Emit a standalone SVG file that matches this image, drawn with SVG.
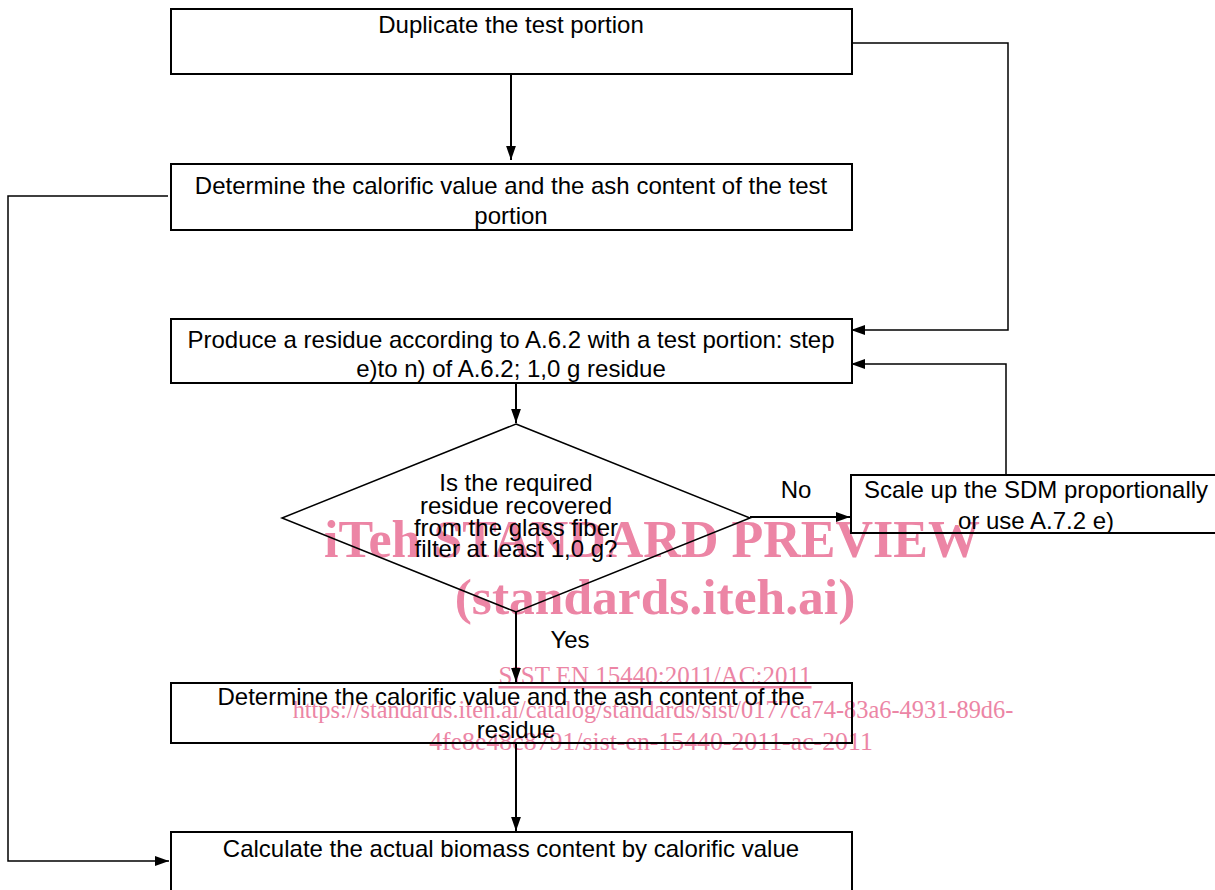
<svg xmlns="http://www.w3.org/2000/svg" width="1215" height="890" viewBox="0 0 1215 890">
<defs>
<marker id="ahb" viewBox="0 0 10 10" refX="10" refY="5" markerWidth="14" markerHeight="14" markerUnits="userSpaceOnUse" orient="auto">
<path d="M0,1.5 L10,5 L0,8.5 z" fill="#000"/>
</marker>
</defs>
<style>
.box{fill:none;stroke:#000;stroke-width:2}
.t{font-family:"Liberation Sans",Arial,sans-serif;font-size:24px;fill:#000;text-anchor:middle}
.c{fill:none;stroke:#000;stroke-width:2;marker-end:url(#ahb)}
.c2{fill:none;stroke:#000;stroke-width:1.5;marker-end:url(#ahb)}
.wm{font-family:"Liberation Serif","Times New Roman",serif;fill:#ec85a5;text-anchor:middle}
</style>
<rect width="1215" height="890" fill="#fff"/>
<g id="watermark">
<text class="wm" x="652" y="557" font-size="52" font-weight="bold">iTeh STANDARD PREVIEW</text>
<text class="wm" x="655" y="614" font-size="51.5" font-weight="bold">(standards.iteh.ai)</text>
<text class="wm" x="655" y="684" font-size="25" text-decoration="underline">SIST EN 15440:2011/AC:2011</text>
<text class="wm" x="653" y="718" font-size="24.4">https://standards.iteh.ai/catalog/standards/sist/0177ca74-83a6-4931-89d6-</text>
<text class="wm" x="651" y="750" font-size="25.8">4fe8e48c8791/sist-en-15440-2011-ac-2011</text>
</g>
<g id="connectors">
<path class="c" d="M511,74 V160"/>
<path class="c2" d="M852,43 H1008 V330 H851"/>
<path class="c2" d="M1006,475 V364 H851"/>
<path class="c" d="M516,383 V423"/>
<path class="c" d="M750,517 H850"/>
<path class="c" d="M516,612 V682"/>
<path class="c" d="M516,743 V831"/>
<path class="c2" d="M168,196 H8 V861 H169"/>
</g>
<g id="n1">
<rect class="box" x="171" y="9" width="681" height="65"/>
<text class="t" x="511" y="33">Duplicate the test portion</text>
</g>
<g id="n2">
<rect class="box" x="171" y="164" width="681" height="66"/>
<text class="t" x="511" y="194">Determine the calorific value and the ash content of the test</text>
<text class="t" x="511" y="224">portion</text>
</g>
<g id="n3">
<rect class="box" x="171" y="319" width="681" height="64"/>
<text class="t" x="511" y="348">Produce a residue according to A.6.2 with a test portion: step</text>
<text class="t" x="511" y="377">e)to n) of A.6.2; 1,0 g residue</text>
</g>
<g id="n4">
<polygon points="516,424 750,518 516,612 282,518" fill="none" stroke="#000" stroke-width="1.5"/>
<text class="t" x="516" y="491">Is the required</text>
<text class="t" x="516" y="514">residue recovered</text>
<text class="t" x="516" y="536">from the glass fiber</text>
<text class="t" x="516" y="557">filter at least 1,0 g?</text>
</g>
<g id="n5">
<rect class="box" x="851" y="475" width="370" height="58"/>
<text class="t" x="1036" y="498">Scale up the SDM proportionally</text>
<text class="t" x="1036" y="529">or use A.7.2 e)</text>
</g>
<g id="n6">
<rect class="box" x="171" y="683" width="681" height="60"/>
<text class="t" x="511" y="705">Determine the calorific value and the ash content of the</text>
<text class="t" x="516" y="738">residue</text>
</g>
<g id="n7">
<rect class="box" x="171" y="832" width="681" height="70"/>
<text class="t" x="511" y="857">Calculate the actual biomass content by calorific value</text>
</g>
<g id="labels">
<text class="t" x="796" y="498">No</text>
<text class="t" x="570" y="648">Yes</text>
</g>
</svg>
